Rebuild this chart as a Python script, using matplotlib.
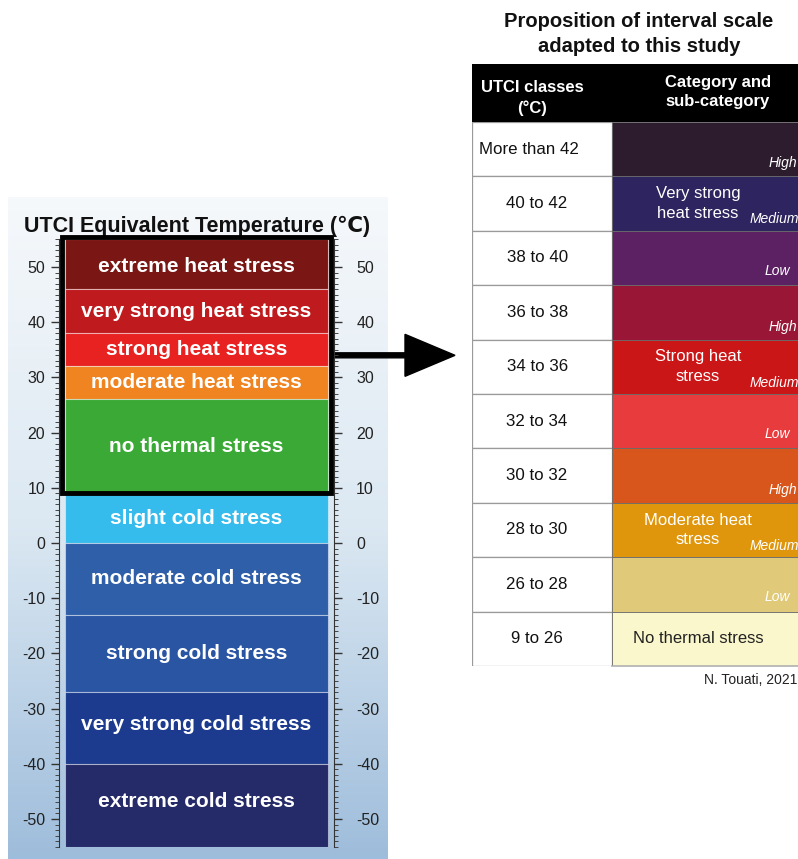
import matplotlib
matplotlib.use('Agg')
import matplotlib.pyplot as plt
import numpy as np
from matplotlib.patches import Rectangle, FancyArrow
from matplotlib.ticker import FixedLocator, MultipleLocator

plt.rcParams['font.family'] = ['Liberation Sans', 'DejaVu Sans']
plt.rcParams['axes.unicode_minus'] = False

# ---------------- data: UTCI scale (left) ----------------
scale_labels = ["extreme heat stress", "very strong heat stress", "strong heat stress",
                "moderate heat stress", "no thermal stress", "slight cold stress",
                "moderate cold stress", "strong cold stress", "very strong cold stress",
                "extreme cold stress"]
scale_upper = [55, 46, 38, 32, 26, 9, 0, -13, -27, -40]
scale_lower = [46, 38, 32, 26, 9, 0, -13, -27, -40, -55]
scale_colors = ["#7a1714", "#bf1a1e", "#e82121", "#ef8420", "#3aa936", "#35bbec",
                "#2f5fa8", "#2a55a3", "#1c3b8f", "#252a68"]
scale_ticks = [50, 40, 30, 20, 10, 0, -10, -20, -30, -40, -50]
heat_box = (9, 55)
arrow_at = 34

# ---------------- data: table (right) ----------------
table_classes = ["More than 42", "40 to 42", "38 to 40", "36 to 38", "34 to 36",
                 "32 to 34", "30 to 32", "28 to 30", "26 to 28", "9 to 26"]
table_colors = ["#2d1c2d", "#2e245f", "#5b2163", "#9a1636", "#cb1618",
                "#e83b3d", "#d8561b", "#df960c", "#e0c978", "#faf7cd"]
table_sub = ["High", "Medium", "Low", "High", "Medium", "Low", "High", "Medium", "Low", ""]
table_categories = ["", "Very strong\nheat stress", "", "", "Strong heat\nstress", "", "",
                    "Moderate heat\nstress", "", "No thermal stress"]

W, H = 798, 859
fig = plt.figure(figsize=(W / 100, H / 100), dpi=100)


def px_axes(x0, y0, x1, y1, **kw):
    return fig.add_axes([x0 / W, 1 - y1 / H, (x1 - x0) / W, (y1 - y0) / H], **kw)


# background axes in pixel units
bg = fig.add_axes([0, 0, 1, 1], zorder=0)
bg.set_xlim(0, W)
bg.set_ylim(H, 0)
bg.axis('off')

# sky gradient
t = np.linspace(0, 1, 300)[:, None]
top = np.array([0.965, 0.975, 0.985])
mid = np.array([0.86, 0.91, 0.95])
bot = np.array([0.62, 0.74, 0.86])
col = np.where(t < 0.5, top + (mid - top) * (t / 0.5), mid + (bot - mid) * ((t - 0.5) / 0.5))
sky = np.repeat(col[:, None, :], 60, axis=1)
bg.imshow(sky, extent=(8, 388, 859, 197), aspect='auto', zorder=0, interpolation='bilinear')

bg.text(197, 226, "UTCI Equivalent Temperature (℃)", ha='center', va='center',
        fontsize=15.5, fontweight='bold', color='#111111')

# ---------------- scale axes ----------------
ax = px_axes(59, 239.4, 334, 846.6, zorder=2)
ax.patch.set_alpha(0)
ax.set_xlim(0, 1)
ax.set_ylim(-55, 55)
heights = [u - l for u, l in zip(scale_upper, scale_lower)]
ax.bar(0.5, heights, bottom=scale_lower, width=0.956, color=scale_colors,
       edgecolor=(1, 1, 1, 0.45), linewidth=0.8)
for lab, u, l in zip(scale_labels, scale_upper, scale_lower):
    yc = (u + l) / 2
    if l <= -40:
        yc += 0.6
    elif u >= 55:
        yc -= 0.5
    ax.text(0.5, yc, lab, ha='center', va='center', color='white',
            fontsize=15, fontweight='bold')
ax.add_patch(Rectangle((0.012, heat_box[0]), 0.976, heat_box[1] - heat_box[0] + 0.5,
                       fill=False, lw=3.5, edgecolor='black', clip_on=False, zorder=5))
for s in ['top', 'bottom', 'right']:
    ax.spines[s].set_visible(False)
ax.spines['left'].set_color('#333333')
ax.set_xticks([])
ax.yaxis.set_major_locator(FixedLocator(scale_ticks))
ax.yaxis.set_minor_locator(MultipleLocator(1))
ax.tick_params(axis='y', which='major', length=6, width=1, labelsize=11.5, pad=4,
               colors='#333333', labelcolor='#222222')
ax.tick_params(axis='y', which='minor', length=3, width=0.7, colors='#444444')

ax2 = ax.twinx()
ax2.patch.set_alpha(0)
ax2.set_ylim(-55, 55)
for s in ['top', 'bottom', 'left']:
    ax2.spines[s].set_visible(False)
ax2.spines['right'].set_color('#333333')
ax2.yaxis.set_major_locator(FixedLocator(scale_ticks))
ax2.yaxis.set_minor_locator(MultipleLocator(1))
ax2.tick_params(axis='y', which='major', length=6, width=1, labelsize=11.5, pad=10,
                colors='#333333', labelcolor='#222222')
ax2.tick_params(axis='y', which='minor', length=3, width=0.7, colors='#444444')

# arrow from the scale to the table
fig.canvas.draw()
ydisp = ax.transData.transform((1, arrow_at))[1]
yarr = H - ydisp
bg.add_patch(FancyArrow(332, yarr, 123, 0, width=5, head_width=42, head_length=50,
                        length_includes_head=True, color='black', zorder=3))

# ---------------- table ----------------
row_px = (666 - 122) / 10
head_h = 58 / row_px
col1_px = 140
tab = px_axes(472, 64, 472 + 352, 666, zorder=2)
tab.set_xlim(0, 352 / col1_px)
tab.set_ylim(10, -head_h)
tab.axis('off')
rows = np.arange(len(table_classes))
col2_w = 352 / col1_px - 1
tab.barh(rows, 1, left=0, height=1, align='edge', color='white', edgecolor='#9a9a9a', linewidth=0.9)
tab.barh(rows, col2_w, left=1, height=1, align='edge', color=table_colors,
         edgecolor='#6a6a6a', linewidth=0.6)
tab.barh(-head_h, 352 / col1_px, left=0, height=head_h, align='edge', color='black')
tab.plot([1, 352 / col1_px], [10, 10], color='#b0b0b0', lw=1.2, clip_on=False)

tab.text(0.43, -head_h / 2 + 0.09, "UTCI classes\n(°C)", ha='center', va='center', color='white',
         fontsize=12, fontweight='bold', linespacing=1.45)
tab.text(1 + col2_w / 2, -head_h / 2 - 0.02, "Category and\nsub-category", ha='center', va='center',
         color='white', fontsize=12, fontweight='bold', linespacing=1.4)

sub_x = {"High": 2.115, "Medium": 1.986, "Low": 2.093}
sub_y = {"High": 0.76, "Medium": 0.79, "Low": 0.74}
for i, (cls, cat, sub) in enumerate(zip(table_classes, table_categories, table_sub)):
    xc = 0.41 if i == 0 else 0.465
    tab.text(xc, i + 0.5, cls, ha='center', va='center', fontsize=12.2, color='#111111')
    if cat:
        c = '#222222' if i == len(table_classes) - 1 else 'white'
        tab.text(1.614, i + 0.5, cat, ha='center', va='center', fontsize=12,
                 color=c, linespacing=1.4)
    if sub:
        tab.text(sub_x[sub], i + sub_y[sub], sub, ha='left', va='center', fontsize=10,
                 color='white', style='italic')

bg.text(639, 34, "Proposition of interval scale\nadapted to this study", ha='center', va='center',
        fontsize=14.5, fontweight='bold', color='#111111', linespacing=1.4)
bg.text(797, 680, "N. Touati, 2021", ha='right', va='center', fontsize=10, color='#222222')

fig.savefig('out.png', dpi=100)
